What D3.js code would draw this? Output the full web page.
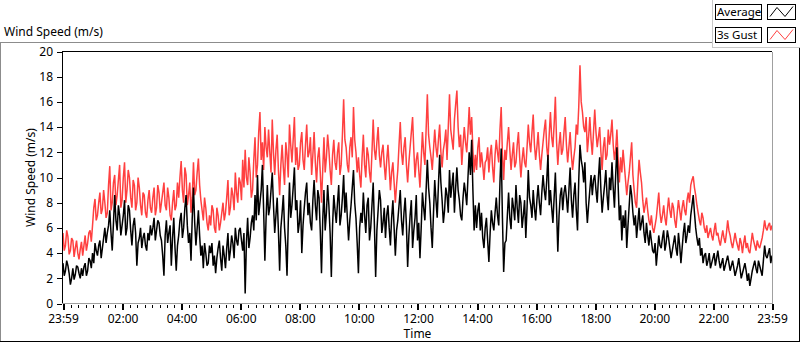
<!DOCTYPE html>
<html>
<head>
<meta charset="utf-8">
<title>Wind Speed</title>
<script src="https://d3js.org/d3.v7.min.js"></script>
<style>
  body { margin: 0; background: white; font-family: "Segoe UI", "Noto Sans", sans-serif; }
  text { font-size: 12px; fill: black; font-family: "Segoe UI", "Noto Sans", sans-serif; }
  .crisp { shape-rendering: crispEdges; }
</style>
</head>
<body>
<script>
// 2.5-minute samples, 23:59 to 23:59 next day (one row per hour)
var startTime = new Date(2000, 0, 1, 23, 59);
var stepMinutes = 2.5;

var gust = [
  5.6, 4.2, 4.6, 5.8, 5.3, 3.9, 4.2, 5.2, 5.0, 3.7, 4.4, 5.0, 4.0, 3.5, 4.3, 4.9, 3.8, 4.6, 5.4, 4.2, 4.8, 5.6, 5.8, 4.9,
  6.2, 7.6, 8.3, 6.6, 7.0, 8.0, 8.8, 7.1, 7.5, 9.0, 8.0, 6.8, 7.2, 9.4, 10.9, 7.4, 8.0, 9.6, 10.2, 7.8, 8.6, 9.8, 11.0, 7.6,
  8.2, 10.0, 11.2, 8.0, 9.0, 10.6, 10.0, 8.4, 7.6, 9.8, 9.4, 7.4, 8.0, 10.0, 9.2, 7.8, 7.0, 8.8, 8.6, 7.2, 6.8, 8.2, 9.0, 7.6,
  7.2, 8.4, 9.2, 7.0, 7.6, 9.4, 8.8, 7.2, 8.0, 8.8, 9.6, 7.8, 7.4, 9.2, 8.4, 7.0, 6.6, 8.0, 9.0, 7.4, 7.8, 9.6, 8.4, 10.0,
  11.3, 9.0, 8.0, 10.8, 10.2, 7.8, 8.6, 9.6, 7.2, 8.4, 11.2, 8.6, 9.0, 10.4, 11.5, 9.4, 8.2, 7.4, 6.6, 8.4, 7.6, 6.4, 5.8, 7.0,
  6.2, 7.8, 7.4, 6.0, 5.6, 7.6, 7.0, 5.8, 6.4, 7.2, 8.0, 6.6, 7.2, 8.4, 9.8, 7.0, 7.6, 9.2, 8.6, 7.4, 10.4, 8.8, 8.0, 10.0,
  9.6, 8.2, 11.4, 9.2, 12.2, 10.0, 9.4, 11.6, 10.4, 8.4, 9.0, 11.4, 13.2, 10.0, 11.0, 13.6, 15.2, 11.4, 12.8, 10.6, 14.0, 12.4, 11.6, 13.8,
  12.0, 10.4, 14.6, 12.0, 10.2, 12.2, 13.4, 10.6, 8.6, 11.0, 12.6, 10.8, 9.4, 12.8, 11.8, 10.0, 14.2, 12.6, 11.2, 13.0, 14.8, 11.0, 12.4, 10.6,
  11.0, 12.8, 13.6, 11.4, 10.6, 12.6, 14.2, 11.6, 12.0, 13.2, 10.2, 11.8, 13.6, 11.2, 9.6, 11.6, 12.4, 10.4, 8.0, 10.6, 13.2, 10.4, 11.6, 13.4,
  12.2, 10.6, 9.4, 11.8, 13.0, 11.2, 10.6, 12.0, 12.8, 10.2, 11.0, 13.4, 16.2, 13.0, 12.4, 11.0, 10.4, 12.4, 13.2, 11.6, 15.6, 13.0, 12.0, 10.4,
  11.6, 10.2, 9.2, 11.6, 13.4, 11.0, 10.0, 12.4, 11.8, 10.4, 9.6, 12.0, 14.6, 12.2, 11.4, 12.8, 14.0, 11.8, 10.8, 12.0, 12.6, 11.0, 9.8, 11.4,
  12.6, 10.8, 9.0, 10.4, 11.2, 9.6, 8.0, 9.4, 10.6, 12.6, 14.4, 12.0, 11.0, 12.4, 13.2, 11.0, 9.6, 11.2, 12.4, 13.6, 14.8, 12.2, 10.0, 11.4,
  12.0, 10.6, 9.2, 11.4, 13.6, 12.0, 11.0, 13.8, 16.6, 13.4, 12.4, 11.6, 10.6, 12.2, 13.8, 12.4, 11.6, 13.0, 14.2, 12.0, 10.8, 12.2, 12.8, 13.8,
  11.4, 14.0, 16.6, 13.8, 13.0, 12.2, 14.6, 15.8, 16.9, 14.0, 12.4, 13.4, 11.0, 12.6, 14.0, 12.8, 12.0, 13.6, 15.6, 13.4, 14.8, 12.2, 10.4, 11.8,
  10.6, 12.4, 13.2, 10.8, 12.0, 11.0, 9.8, 11.2, 11.4, 12.4, 10.4, 11.8, 12.6, 10.8, 9.6, 11.8, 13.0, 12.0, 11.2, 13.8, 15.6, 11.8, 9.8, 12.2,
  11.4, 12.8, 14.0, 12.2, 10.6, 11.8, 12.8, 10.8, 11.2, 12.6, 13.6, 11.6, 10.0, 11.4, 12.4, 11.2, 10.8, 12.4, 14.2, 12.8, 12.0, 13.6, 15.0, 12.6,
  11.4, 12.4, 13.6, 11.8, 10.6, 11.8, 12.8, 13.8, 14.6, 12.4, 11.4, 13.4, 15.2, 13.2, 12.4, 14.2, 16.4, 12.8, 11.0, 12.6, 13.6, 11.8, 12.2, 13.6,
  14.8, 12.6, 11.2, 12.4, 13.6, 11.8, 10.6, 11.6, 12.4, 14.2, 13.4, 15.6, 18.9, 16.0, 15.2, 14.0, 13.6, 14.8, 12.0, 13.2, 14.8, 13.0, 11.8, 13.6,
  15.4, 13.6, 12.4, 13.2, 14.0, 12.0, 10.6, 12.4, 13.2, 11.4, 11.8, 13.8, 12.6, 13.4, 14.6, 12.6, 11.4, 12.2, 13.8, 11.4, 9.6, 11.6, 10.4, 12.2,
  11.0, 9.8, 8.6, 9.6, 10.4, 11.6, 12.8, 10.2, 9.0, 8.0, 7.6, 9.6, 11.4, 10.4, 9.6, 8.2, 7.2, 7.8, 8.4, 7.4, 6.6, 6.2, 7.0, 6.0,
  5.6, 6.2, 6.8, 7.8, 8.8, 7.2, 6.4, 7.0, 7.8, 6.8, 6.2, 7.4, 8.4, 7.4, 6.8, 8.0, 7.6, 6.6, 6.0, 7.2, 8.2, 7.4, 6.6, 7.6,
  8.2, 7.4, 7.0, 8.2, 8.8, 8.0, 9.4, 9.8, 10.1, 9.2, 8.6, 7.8, 7.2, 6.6, 6.2, 7.2, 6.8, 6.0, 5.6, 6.2, 5.2, 5.6, 6.0, 5.4,
  5.0, 5.8, 6.4, 5.4, 5.6, 5.0, 4.6, 5.2, 5.8, 5.2, 4.8, 5.6, 6.6, 5.8, 5.4, 4.8, 4.4, 5.0, 5.6, 5.0, 4.6, 4.2, 5.2, 4.8,
  4.0, 4.8, 5.4, 4.4, 4.8, 4.2, 4.0, 4.8, 5.6, 5.0, 4.6, 4.2, 5.0, 4.6, 4.4, 4.8, 5.2, 5.8, 6.6, 6.0, 5.8, 6.2, 6.4, 5.8, 6.2
];

var average = [
  3.2, 2.2, 2.6, 3.4, 3.0, 2.4, 1.5, 2.0, 2.8, 1.9, 2.3, 3.0, 2.9, 2.4, 2.0, 2.8, 2.2, 2.9, 3.2, 2.2, 2.6, 3.6, 3.4, 2.8,
  4.0, 3.2, 4.8, 4.2, 3.8, 4.6, 5.0, 3.6, 4.4, 5.2, 6.0, 4.8, 5.6, 6.2, 7.4, 5.6, 4.2, 6.4, 8.6, 6.6, 5.8, 7.8, 7.0, 5.4,
  6.2, 7.0, 8.2, 5.4, 6.0, 7.8, 7.4, 5.8, 4.6, 6.2, 6.8, 5.6, 3.0, 4.8, 5.2, 6.0, 4.4, 5.2, 5.6, 4.6, 4.2, 5.6, 5.0, 6.2,
  5.4, 6.0, 6.8, 5.0, 5.8, 6.6, 6.4, 5.4, 5.0, 3.8, 2.2, 5.4, 6.6, 4.8, 5.6, 6.2, 3.0, 5.2, 6.8, 4.4, 2.6, 4.6, 5.4, 6.6,
  7.2, 5.2, 6.0, 7.6, 8.6, 6.2, 4.8, 5.6, 3.4, 6.8, 9.2, 6.4, 4.6, 6.0, 7.4, 5.4, 3.8, 4.6, 2.8, 4.8, 4.0, 3.0, 3.2, 4.6,
  4.0, 4.8, 3.0, 3.8, 2.4, 3.6, 4.4, 5.0, 3.6, 2.6, 4.6, 3.8, 2.8, 4.4, 5.6, 3.4, 4.2, 5.4, 4.8, 3.6, 6.0, 5.0, 4.6, 5.8,
  6.0, 5.0, 4.2, 5.6, 0.8, 4.8, 6.8, 4.4, 5.2, 6.4, 7.0, 5.8, 8.6, 6.6, 10.2, 7.0, 8.0, 9.0, 11.0, 7.4, 3.4, 6.8, 9.4, 7.0,
  7.6, 9.0, 10.4, 7.8, 5.6, 7.0, 8.4, 5.8, 2.6, 6.0, 7.2, 8.6, 6.0, 4.6, 2.2, 6.4, 9.6, 6.8, 7.8, 9.2, 10.8, 7.4, 8.2, 5.6,
  6.4, 8.2, 4.0, 6.2, 7.6, 8.8, 9.6, 7.0, 8.0, 6.4, 5.8, 8.2, 9.8, 7.8, 6.6, 9.0, 8.4, 5.8, 2.4, 6.6, 9.0, 5.8, 7.2, 9.4,
  7.8, 5.6, 2.1, 6.2, 8.6, 7.4, 6.4, 8.0, 9.4, 6.2, 7.0, 8.4, 10.2, 7.2, 8.8, 6.8, 5.0, 6.6, 7.8, 9.2, 10.6, 8.0, 6.8, 4.8,
  2.4, 6.0, 7.2, 6.4, 8.8, 7.0, 5.6, 7.8, 8.4, 5.0, 6.0, 7.8, 9.6, 6.2, 2.1, 5.8, 7.4, 9.0, 8.2, 5.6, 6.4, 7.6, 5.2, 7.0,
  7.8, 6.0, 4.6, 6.8, 8.2, 6.0, 3.8, 5.8, 6.6, 7.8, 9.0, 6.6, 5.4, 7.2, 8.4, 6.2, 2.9, 5.4, 7.0, 8.2, 4.4, 5.8, 6.8, 8.6,
  5.0, 6.4, 3.6, 6.0, 8.8, 7.6, 6.6, 9.0, 11.4, 9.2, 8.0, 6.0, 4.4, 7.2, 9.8, 8.2, 6.8, 9.4, 11.8, 9.6, 8.2, 6.4, 7.4, 9.2,
  8.6, 7.2, 10.6, 8.4, 9.4, 10.4, 7.2, 9.2, 10.8, 9.0, 8.2, 7.0, 6.6, 8.4, 9.6, 8.8, 7.8, 10.0, 12.0, 10.2, 13.0, 9.0, 5.8, 7.8,
  6.0, 7.4, 8.0, 5.8, 7.2, 5.2, 4.4, 6.0, 6.8, 5.0, 3.3, 5.6, 7.4, 6.4, 5.8, 7.2, 8.4, 7.0, 6.2, 9.6, 12.3, 6.8, 2.5, 4.8,
  5.0, 7.0, 8.8, 6.8, 5.9, 8.4, 7.6, 6.6, 9.4, 7.6, 6.4, 8.6, 8.0, 6.0, 7.0, 8.2, 5.2, 7.6, 10.6, 8.4, 7.8, 6.8, 9.0, 7.6,
  6.6, 8.2, 9.4, 8.0, 7.0, 8.8, 10.2, 9.0, 8.2, 9.8, 11.8, 7.8, 9.0, 7.6, 6.4, 8.4, 10.4, 7.4, 4.1, 7.0, 8.6, 9.2, 7.4, 8.8,
  9.4, 8.4, 7.2, 9.0, 10.8, 8.2, 6.8, 8.6, 9.6, 7.4, 5.8, 9.8, 12.6, 11.4, 10.8, 9.6, 11.2, 8.0, 6.4, 7.8, 9.0, 10.2, 8.6, 9.8,
  10.2, 9.0, 8.0, 10.0, 11.6, 9.0, 7.2, 8.4, 9.4, 10.6, 8.6, 7.4, 10.0, 9.0, 11.2, 9.2, 7.6, 10.2, 12.4, 9.4, 6.6, 7.8, 5.0, 7.0,
  6.0, 7.4, 4.4, 6.2, 7.8, 9.4, 8.6, 7.2, 6.2, 7.0, 5.2, 6.4, 7.6, 5.8, 6.4, 7.0, 5.6, 4.8, 6.4, 5.4, 4.6, 5.8, 5.0, 4.2,
  4.0, 4.8, 3.0, 4.2, 5.4, 4.6, 4.4, 5.2, 5.8, 4.2, 4.8, 5.8, 5.2, 4.4, 3.6, 4.2, 4.8, 5.4, 4.4, 3.8, 5.6, 4.6, 3.2, 4.4,
  5.6, 6.4, 4.8, 5.4, 6.2, 5.6, 7.0, 7.8, 8.6, 7.2, 6.0, 5.2, 4.6, 5.2, 3.8, 4.4, 3.2, 3.8, 4.0, 3.0, 3.4, 4.0, 2.8, 3.2,
  3.6, 4.0, 3.0, 3.6, 4.2, 3.4, 2.8, 3.2, 3.6, 2.6, 3.0, 3.4, 3.8, 3.2, 2.6, 3.0, 3.4, 2.8, 2.2, 2.6, 3.0, 3.6, 2.8, 2.0,
  2.4, 2.8, 3.2, 2.6, 1.8, 2.4, 1.4, 2.0, 2.6, 3.0, 3.4, 2.8, 2.4, 3.4, 3.0, 2.6, 2.2, 3.4, 4.6, 3.8, 3.6, 4.0, 4.4, 3.2, 3.8
];

var xTickLabels = ["23:59", "02:00", "04:00", "06:00", "08:00", "10:00", "12:00",
                   "14:00", "16:00", "18:00", "20:00", "22:00", "23:59"];
var yTicks = [0, 2, 4, 6, 8, 10, 12, 14, 16, 18, 20];
var seriesNames = ["Average", "3s Gust"];
var seriesColors = ["#000000", "#ff4040"];

var width = 800, height = 342;
var plotLeft = 63, plotRight = 772, plotTop = 51.5, plotBottom = 303.5;

var endTime = d3.timeMinute.offset(startTime, 24 * 60);
function timeAt(i) { return new Date(startTime.getTime() + i * stepMinutes * 60000); }

var x = d3.scaleTime().domain([startTime, endTime]).range([plotLeft, plotRight]);
var y = d3.scaleLinear().domain([0, 20]).range([plotBottom, plotTop]);

var svg = d3.select("body").append("svg")
    .attr("width", width)
    .attr("height", height);

// outer panel frame
var frame = svg.append("g").attr("class", "crisp");
frame.append("line").attr("x1", 0).attr("x2", 712).attr("y1", 42.5).attr("y2", 42.5).attr("stroke", "#8c8c8c");
frame.append("line").attr("x1", 0.5).attr("x2", 0.5).attr("y1", 42).attr("y2", 342).attr("stroke", "#8c8c8c");
frame.append("line").attr("x1", 0).attr("x2", 800).attr("y1", 341.5).attr("y2", 341.5).attr("stroke", "#000");
frame.append("line").attr("x1", 799.5).attr("x2", 799.5).attr("y1", 47).attr("y2", 342).attr("stroke", "#000");

svg.append("text").attr("x", 4).attr("y", 36).text("Wind Speed (m/s)");

// legend
var legend = svg.append("g").attr("class", "crisp");
legend.append("line").attr("x1", 712.5).attr("x2", 712.5).attr("y1", 0).attr("y2", 48).attr("stroke", "#c8c8c8");
legend.append("line").attr("x1", 712).attr("x2", 800).attr("y1", 47.5).attr("y2", 47.5).attr("stroke", "#c8c8c8");

var zig = d3.line();
seriesNames.forEach(function(name, s) {
  var top = 4.5 + s * 23;
  legend.append("rect").attr("x", 715.5).attr("y", top).attr("width", 46).attr("height", 15)
    .attr("fill", "white").attr("stroke", "#000");
  svg.append("text").attr("x", 717).attr("y", top + 11.5).style("font-size", "11.5px").text(name);
  legend.append("rect").attr("x", 767.5).attr("y", top).attr("width", 28).attr("height", 15)
    .attr("fill", "white").attr("stroke", "#000");
  svg.append("path")
    .attr("d", zig([[770, top + 12], [777, top + 3], [785, top + 12], [793, top + 2]]))
    .attr("fill", "none").attr("stroke", seriesColors[s]).attr("stroke-width", 1);
});

// plot background and borders
svg.append("rect").attr("x", plotLeft).attr("y", plotTop).attr("width", plotRight - plotLeft)
  .attr("height", plotBottom - plotTop).attr("fill", "white");

svg.append("clipPath").attr("id", "clip").append("rect")
  .attr("x", plotLeft).attr("y", plotTop).attr("width", plotRight - plotLeft)
  .attr("height", plotBottom - plotTop);

var line = d3.line()
    .x(function(d, i) { return x(timeAt(i)); })
    .y(function(d) { return y(d); });

var plots = svg.append("g").attr("clip-path", "url(#clip)");
plots.append("path").datum(gust).attr("d", line)
  .attr("fill", "none").attr("stroke", seriesColors[1]).attr("stroke-width", 1.5)
  .attr("stroke-linejoin", "bevel");
plots.append("path").datum(average).attr("d", line)
  .attr("fill", "none").attr("stroke", seriesColors[0]).attr("stroke-width", 1.5)
  .attr("stroke-linejoin", "bevel");

var borders = svg.append("g").attr("class", "crisp");
borders.append("line").attr("x1", plotLeft - 1).attr("x2", plotRight).attr("y1", plotTop).attr("y2", plotTop).attr("stroke", "#000");
borders.append("line").attr("x1", plotLeft - 0.5).attr("x2", plotLeft - 0.5).attr("y1", plotTop).attr("y2", plotBottom + 0.5).attr("stroke", "#000");
borders.append("line").attr("x1", plotRight + 0.5).attr("x2", plotRight + 0.5).attr("y1", plotTop).attr("y2", plotBottom + 0.5).attr("stroke", "#a0a0a0");
borders.append("line").attr("x1", plotLeft - 1).attr("x2", plotRight + 1).attr("y1", plotBottom).attr("y2", plotBottom).attr("stroke", "#a0a0a0");

// y axis
var yAxis = svg.append("g").attr("class", "crisp")
  .attr("transform", "translate(" + (plotLeft - 1) + ",0)")
  .call(d3.axisLeft(y).tickValues(yTicks).tickSize(5).tickPadding(4));
yAxis.select(".domain").remove();
yAxis.selectAll("text").style("font-size", "12px");

// x axis: minor ticks every 15 minutes, major ticks with labels
var parseLabel = d3.timeParse("%H:%M");
var majorTimes = xTickLabels.map(function(l, i) {
  if (i === 0) return startTime;
  if (i === xTickLabels.length - 1) return endTime;
  var t = parseLabel(l);
  return new Date(2000, 0, 2, t.getHours(), t.getMinutes());
});
var minorTimes = d3.timeMinute.every(15).range(d3.timeMinute.offset(startTime, 2), endTime)
  .filter(function(t) { return !(t.getMinutes() === 0 && t.getHours() % 2 === 0); });

var xMinor = svg.append("g").attr("class", "crisp")
  .attr("transform", "translate(0," + (plotBottom + 1.5) + ")")
  .call(d3.axisBottom(x).tickValues(minorTimes).tickSize(3).tickFormat(""));
xMinor.select(".domain").remove();

var xAxis = svg.append("g").attr("class", "crisp")
  .attr("transform", "translate(0," + (plotBottom + 0.5) + ")")
  .call(d3.axisBottom(x).tickValues(majorTimes).tickSize(6).tickPadding(4)
    .tickFormat(function(d, i) { return xTickLabels[i]; }));
xAxis.select(".domain").remove();
xAxis.selectAll(".tick line").attr("stroke-width", 2);
xAxis.selectAll("text").style("font-size", "12px");

// axis titles
svg.append("text").attr("transform", "translate(35," + ((plotTop + plotBottom) / 2) + ") rotate(-90)")
  .attr("text-anchor", "middle").text("Wind Speed (m/s)");
svg.append("text").attr("x", (plotLeft + plotRight) / 2).attr("y", 338)
  .attr("text-anchor", "middle").text("Time");
</script>
</body>
</html>
